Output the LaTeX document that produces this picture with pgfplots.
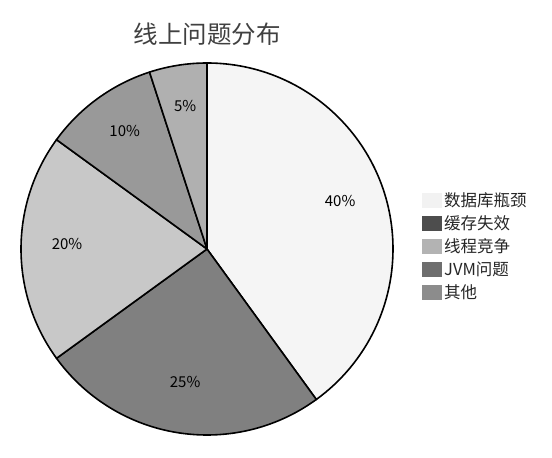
\documentclass[border=0pt]{standalone}
\usepackage{pgfplots}
\pgfplotsset{compat=1.18}
\usepackage{pgfplotstable}
\usepackage{fontspec}
\setmainfont{Noto Sans CJK SC}

% slice fills
\definecolor{sA}{HTML}{F5F5F5}
\definecolor{sB}{HTML}{808080}
\definecolor{sC}{HTML}{C8C8C8}
\definecolor{sD}{HTML}{999999}
\definecolor{sE}{HTML}{B0B0B0}
% legend fills (as in the reference, not the same as the slices)
\definecolor{lA}{HTML}{F2F2F2}
\definecolor{lB}{HTML}{4D4D4D}
\definecolor{lC}{HTML}{B3B3B3}
\definecolor{lD}{HTML}{6E6E6E}
\definecolor{lE}{HTML}{8C8C8C}
\definecolor{titlegray}{HTML}{404040}

\pgfplotstableread{
value
40
25
20
10
5
}\piedata

\pgfplotsset{
  pielegend/.style={legend image code/.code={\fill[##1, draw=none] (0pt,-7.5pt) rectangle (20pt,7.5pt);}},
}

\begin{document}
\begin{tikzpicture}
\useasboundingbox (0,0) rectangle (552pt,458pt);
\begin{axis}[
    at={(207pt,209pt)}, anchor=center,
    x=1pt, y=1pt,
    xmin=-186, xmax=186, ymin=-186, ymax=186,
    hide axis, clip=false,
    title={线上问题分布},
    title style={at={(0.5,1)}, anchor=center, yshift=23pt,
        font=\fontsize{24.5}{24.5}\selectfont, text=titlegray},
    legend cell align=left,
    legend style={draw=none, fill=none, at={(1.078,0.507)}, anchor=west,
        inner sep=0pt, row sep=3.5pt, text=black!85,
        font=\fontsize{16.5}{16.5}\selectfont},
]
\addlegendimage{pielegend, fill=lA}
\addlegendentry{数据库瓶颈}
\addlegendimage{pielegend, fill=lB}
\addlegendentry{缓存失效}
\addlegendimage{pielegend, fill=lC}
\addlegendentry{线程竞争}
\addlegendimage{pielegend, fill=lD}
\addlegendentry{JVM问题}
\addlegendimage{pielegend, fill=lE}
\addlegendentry{其他}
\pgfplotsextra{
  \gdef\curang{90}
  \foreach \i/\c in {0/sA,1/sB,2/sC,3/sD,4/sE}{
    \pgfplotstablegetelem{\i}{value}\of\piedata
    \edef\pv{\pgfplotsretval}
    \pgfmathsetmacro\endang{\curang-3.6*\pv}
    \pgfmathsetmacro\midang{(\curang+\endang)/2}
    \filldraw[fill=\c, draw=black, line width=1.6pt, line join=round]
      (axis cs:0,0) -- ++(\curang:186pt)
      arc[start angle=\curang, end angle=\endang, radius=186pt] -- cycle;
    \path (axis cs:0,0) ++(\midang:140pt)
      node[font=\fontsize{15}{15}\selectfont, yshift=5pt] {\pv\%};
    \xdef\curang{\endang}
  }
}
\end{axis}
\end{tikzpicture}
\end{document}
